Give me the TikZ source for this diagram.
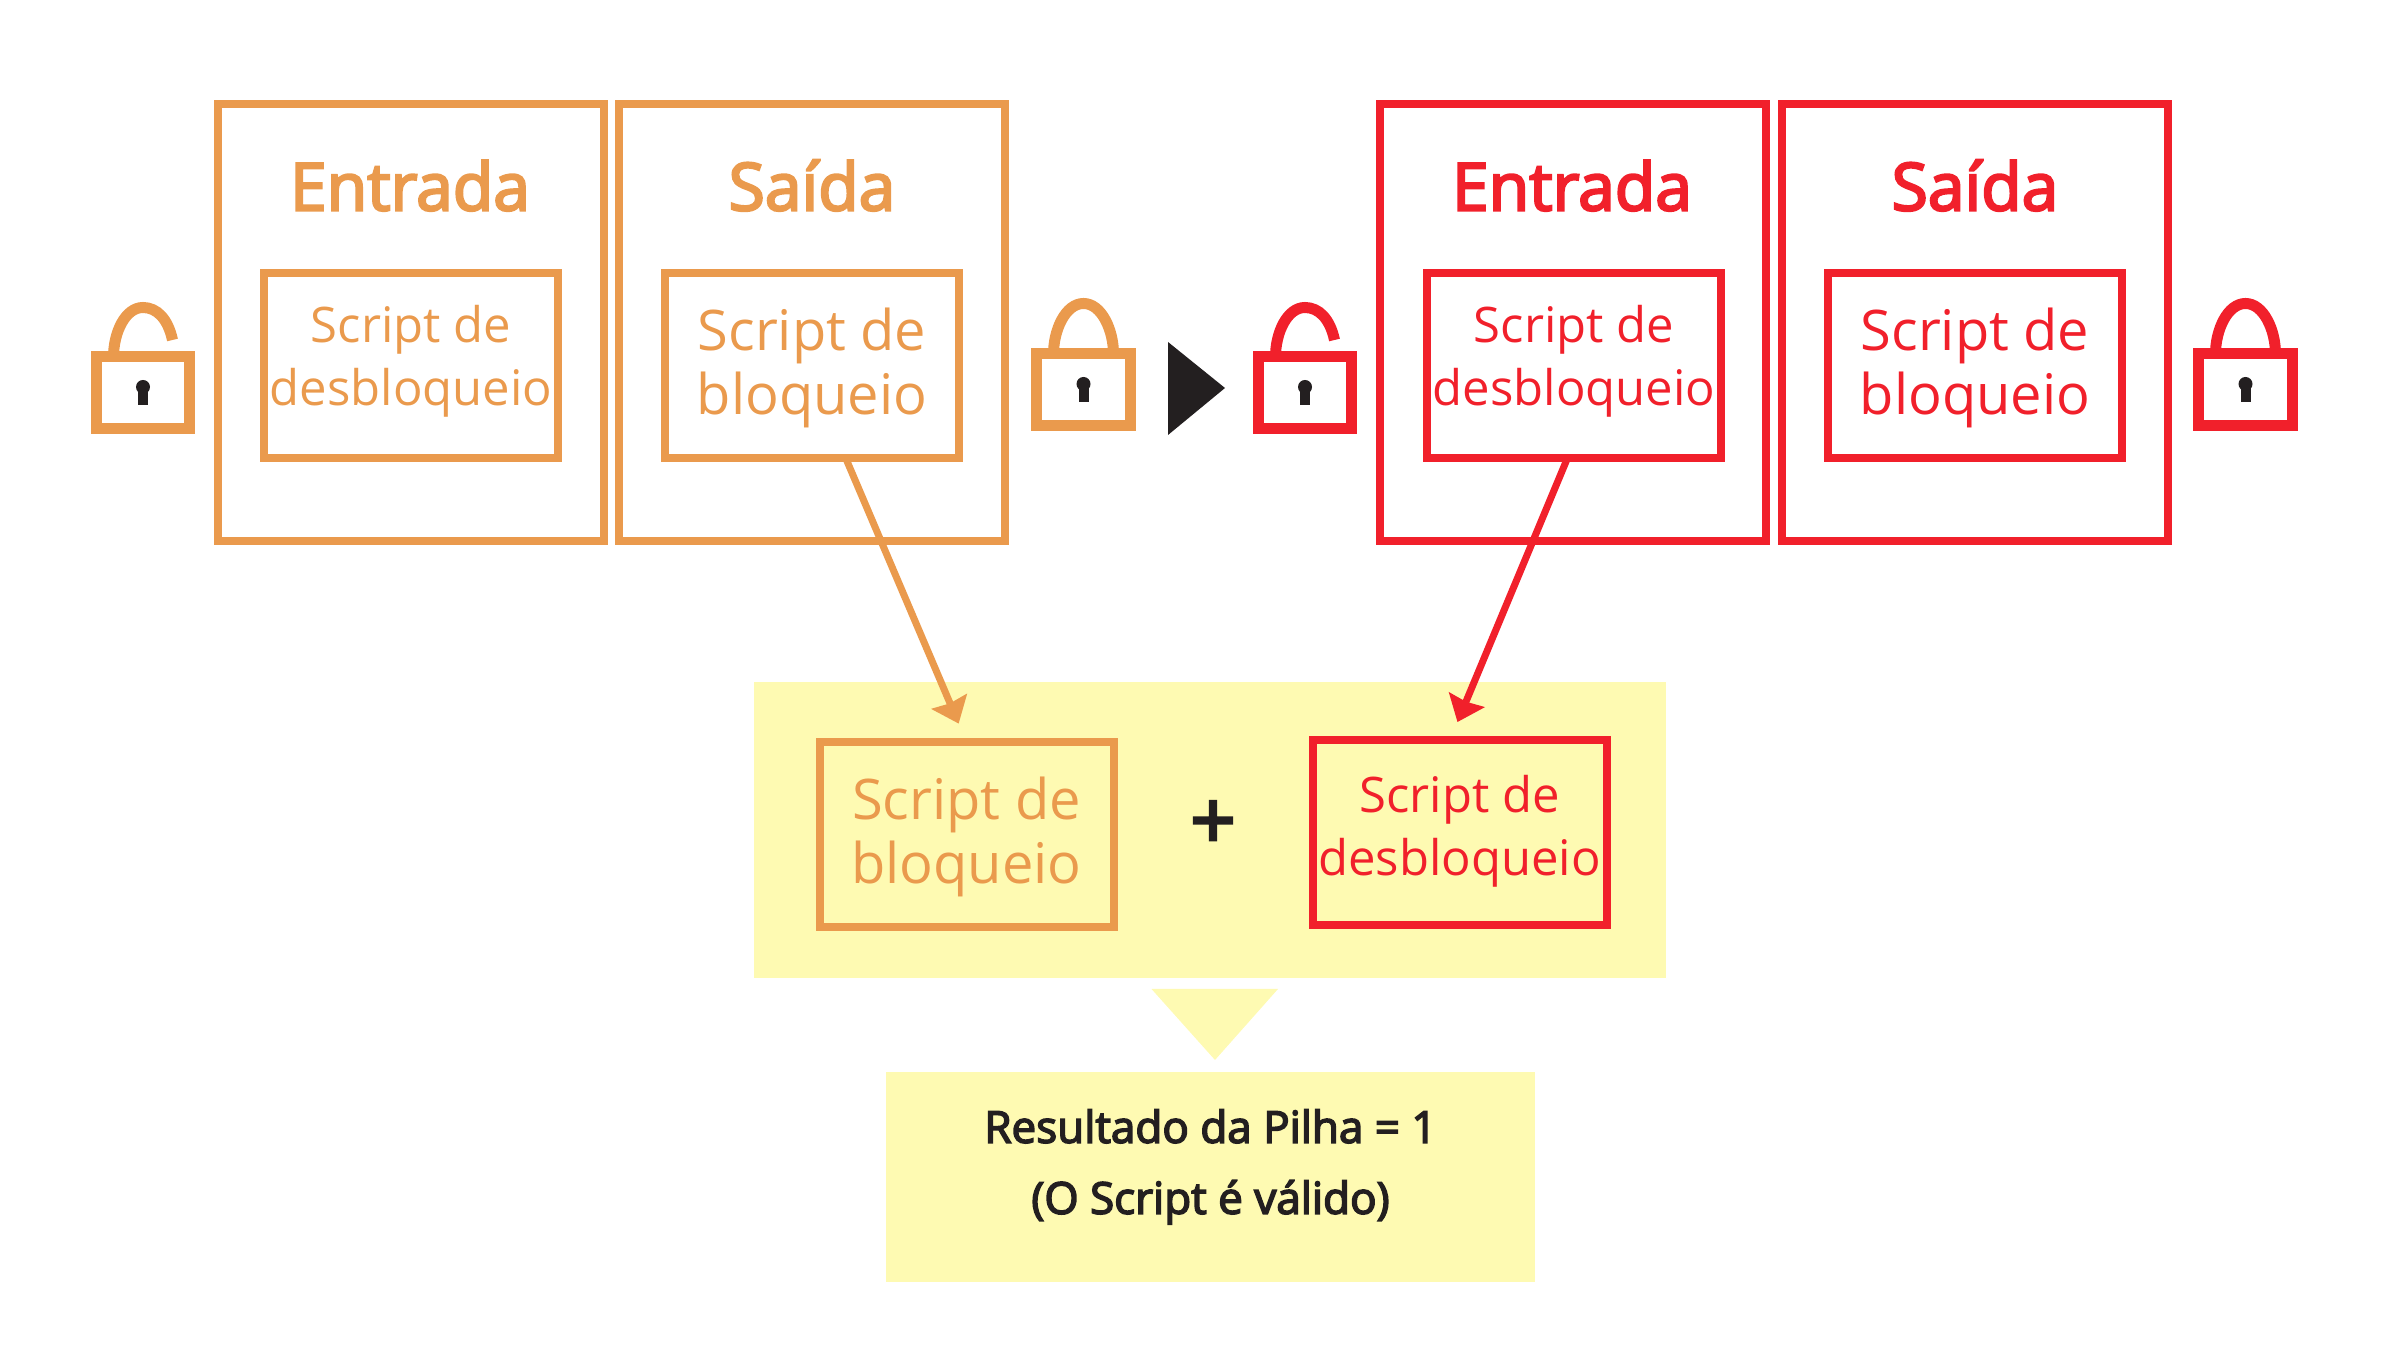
\documentclass[tikz,border=0pt]{standalone}
\usepackage{fontspec}
\setmainfont{Open Sans}
\newfontfamily\headfont[FakeBold=3.5]{Open Sans}
\usepackage{xcolor}
\usepackage{tikz}
\usetikzlibrary{arrows.meta, positioning}

\definecolor{lockorange}{HTML}{EA9A4D}
\definecolor{lockred}{HTML}{F1202B}
\definecolor{panelyellow}{HTML}{FEFAB2}
\definecolor{darktext}{HTML}{231F20}

\tikzset{
  keyhole/.pic={
    \fill[darktext] (0,6) circle (7);
    \fill[darktext] (-5,6) rectangle (5,-12);
  },
  lockopen/.pic={
    \draw[line width=5.5pt] (-46.5,-36) rectangle (46.5,36);
    \draw[line width=5.5pt] (-29.5,36) .. controls (-29.5,60) and (-18,85.5) .. (0,85.5) .. controls (14,85.5) and (25,74) .. (29.5,53);
    \pic {keyhole};
  },
  lockclosed/.pic={
    \draw[line width=5.5pt] (-47,-36) rectangle (47,36);
    \draw[line width=5.5pt] (-30,36) .. controls (-30,60) and (-18,86.5) .. (0,86.5) .. controls (18,86.5) and (30,60) .. (30,36);
    \pic {keyhole};
  }
}

\begin{document}
\begin{tikzpicture}[x=0.5pt, y=0.5pt]
\tikzstyle{outerbox} = [rectangle, draw, line width=4pt, outer sep=0pt, minimum width=193pt, minimum height=218.5pt]
\tikzstyle{scriptbox} = [rectangle, draw, line width=4pt, outer sep=0pt, inner sep=0pt, minimum width=147pt, minimum height=92.5pt, align=center, font=\fontsize{24.5}{31.5}\selectfont, text depth=10pt]
\tikzstyle{bigscript} = [font=\fontsize{28}{32}\selectfont, text depth=4pt]
\tikzstyle{heading} = [inner sep=0pt, font=\headfont\fontsize{33}{36}\selectfont, text height=26pt, text depth=0pt]
\tikzstyle{yellowbox} = [rectangle, fill=panelyellow, outer sep=0pt, inner sep=0pt]
\tikzstyle{arrow} = [line width=3.5pt, -{Stealth[length=12pt, width=19pt, inset=1pt]}, shorten >=10pt]

\useasboundingbox (0,0) rectangle (2390,1371);

% boxes, left pair
\node (entradaA) [outerbox, color=lockorange] at (411,1048.5) {};
\node (saidaA) [outerbox, color=lockorange, right=7.5pt of entradaA] {};
\node (titleEntA) [heading, color=lockorange, below=27pt of entradaA.north, xshift=-0.5pt] {Entrada};
\node (titleSaiA) [heading, color=lockorange, below=27pt of saidaA.north] {Saída};
\node (scriptEntA) [scriptbox, color=lockorange, below=84.5pt of entradaA.north, anchor=north] {Script de\\desbloqueio};
\node (scriptSaiA) [scriptbox, bigscript, color=lockorange, below=84.5pt of saidaA.north, anchor=north] {Script de\\bloqueio};

% boxes, right pair
\node (entradaB) [outerbox, color=lockred] at (1573,1048.5) {};
\node (saidaB) [outerbox, color=lockred, right=8pt of entradaB] {};
\node (titleEntB) [heading, color=lockred, below=27pt of entradaB.north, xshift=-0.5pt] {Entrada};
\node (titleSaiB) [heading, color=lockred, below=27pt of saidaB.north] {Saída};
\node (scriptEntB) [scriptbox, color=lockred, below=84.5pt of entradaB.north, anchor=north, xshift=0.5pt] {Script de\\desbloqueio};
\node (scriptSaiB) [scriptbox, bigscript, color=lockred, below=84.5pt of saidaB.north, anchor=north] {Script de\\bloqueio};

% locks
\pic[color=lockorange] at (143,978) {lockopen};
\pic[color=lockorange] at (1083.5,981) {lockclosed};
\pic[color=lockred] at (1305,978) {lockopen};
\pic[color=lockred] at (2245.5,981) {lockclosed};
\fill[darktext] (1168,1029) -- (1225,983) -- (1168,936) -- cycle;

% stack panel
\node (panel) [yellowbox, minimum width=456pt, minimum height=148pt] at (1210,541) {};
\node (comboBloq) [scriptbox, bigscript, color=lockorange] at (966.5,536.5) {Script de\\bloqueio};
\node (comboDesb) [scriptbox, color=lockred, text depth=8pt] at (1459.5,538) {Script de\\desbloqueio};
\node (plus) [inner sep=0pt, text=darktext, font=\headfont\fontsize{40}{42}\selectfont] at (1213,546) {+};

\fill[panelyellow] (1151.5,382) -- (1278,382) -- (1215,311) -- cycle;
\node (result) [yellowbox, text=darktext, align=center, minimum width=324.5pt, minimum height=105pt, text depth=15.4pt, font=\headfont\fontsize{22}{35.5}\selectfont] at (1210.5,194) {Resultado da Pilha = 1\\(O Script é válido)};

\draw [arrow, color=lockorange] (scriptSaiA.-70) -- (comboBloq.north);
\draw [arrow, color=lockred] (scriptEntB.-94) -- (comboDesb.96);

\end{tikzpicture}
\end{document}
